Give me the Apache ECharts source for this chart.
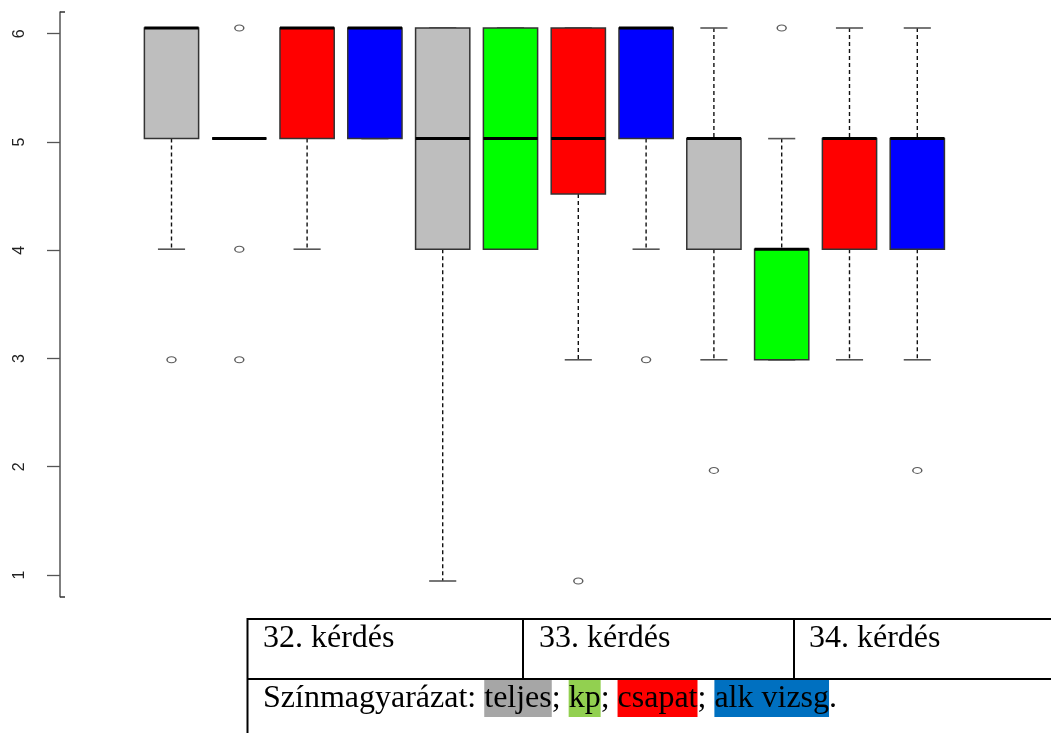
<!DOCTYPE html>
<html>
<head>
<meta charset="utf-8">
<script src="https://cdn.jsdelivr.net/npm/echarts@6/dist/echarts.min.js"></script>
<style>
  html, body { margin: 0; padding: 0; background: #fff; }
  #chart { width: 1051px; height: 733px; }
</style>
</head>
<body>
<div id="chart"></div>
<script>
// Questions and respondent groups (one box per question × group)
const questions = ['32. kérdés', '33. kérdés', '34. kérdés'];
const groups = ['teljes', 'kp', 'csapat', 'alk vizsg'];

// Box statistics, in order 32/teljes, 32/kp, ... 34/alk vizsg
const whiskerLow    = [4, 5, 4, 5, 1, 4, 3,   4, 3, 3, 3, 3];
const lowerQuartile = [5, 5, 5, 5, 4, 4, 4.5, 5, 4, 3, 4, 4];
const median        = [6, 5, 6, 6, 5, 5, 5,   6, 5, 4, 5, 5];
const upperQuartile = [6, 5, 6, 6, 6, 6, 6,   6, 5, 4, 5, 5];
const whiskerHigh   = [6, 5, 6, 6, 6, 6, 6,   6, 6, 5, 6, 6];

// Outliers as [box index, value]
const outliers = [[0, 3], [1, 6], [1, 4], [1, 3], [6, 1], [7, 3], [8, 2], [9, 6], [11, 2]];

// Y axis tick labels
const yTicks = [1, 2, 3, 4, 5, 6];

// Fill colour per group
const groupFill = ['#BEBEBE', '#00FF00', '#FF0000', '#0000FF'];
// Highlight colour per group in the legend line
const groupHighlight = ['#A6A6A6', '#92D050', '#FF0000', '#0070C0'];

const categories = [];
questions.forEach(q => groups.forEach(g => categories.push(q + ' – ' + g)));

const boxData = categories.map((c, i) => [
  i, whiskerLow[i], lowerQuartile[i], median[i], upperQuartile[i], whiskerHigh[i]
]);

const chart = echarts.init(document.getElementById('chart'), null, { renderer: 'canvas' });

function renderBox(params, api) {
  const i = api.value(0);
  const lo = api.value(1), q1 = api.value(2), med = api.value(3), q3 = api.value(4), hi = api.value(5);
  const band = api.size([1, 0])[0];
  const bw = band * 0.8;
  const cx = api.coord([i, med])[0];
  const py = v => api.coord([i, v])[1];
  const fill = groupFill[i % groups.length];
  const dash = { stroke: '#111', lineWidth: 1.4, lineDash: [4, 3] };
  const staple = { stroke: '#555', lineWidth: 1.6 };
  return {
    type: 'group',
    children: [
      { type: 'line', shape: { x1: cx, y1: py(hi), x2: cx, y2: py(q3) }, style: dash },
      { type: 'line', shape: { x1: cx, y1: py(q1), x2: cx, y2: py(lo) }, style: dash },
      { type: 'line', shape: { x1: cx - bw / 4, y1: py(hi), x2: cx + bw / 4, y2: py(hi) }, style: staple },
      { type: 'line', shape: { x1: cx - bw / 4, y1: py(lo), x2: cx + bw / 4, y2: py(lo) }, style: staple },
      { type: 'rect', shape: { x: cx - bw / 2, y: py(q3), width: bw, height: py(q1) - py(q3) },
        style: { fill: fill, stroke: '#333', lineWidth: 1.5 } },
      { type: 'line', shape: { x1: cx - bw / 2, y1: py(med), x2: cx + bw / 2, y2: py(med) },
        style: { stroke: '#000', lineWidth: 3 } }
    ]
  };
}

const legendRich = {
  base: { fontFamily: 'Liberation Serif', fontSize: 32, color: '#000', lineHeight: 37, height: 37 }
};
const richKeys = ['g0', 'g1', 'g2', 'g3'];
richKeys.forEach((k, i) => {
  legendRich[k] = { fontFamily: 'Liberation Serif', fontSize: 32, color: '#000',
    lineHeight: 37, height: 37, backgroundColor: groupHighlight[i] };
});
const legendText = '{base|Színmagyarázat: }' +
  groups.map((g, i) => '{' + richKeys[i] + '|' + g + '}').join('{base|; }') + '{base|.}';

const cellTextX = [263, 539, 809];

chart.setOption({
  animation: false,
  backgroundColor: '#fff',
  grid: [
    { left: 60, top: 12.05, width: 10, height: 584.6 },
    { left: 137.6, top: 28, width: 813.6, height: 553 }
  ],
  xAxis: [
    { gridIndex: 0, type: 'value', show: false },
    { gridIndex: 1, type: 'category', data: categories, show: false }
  ],
  yAxis: [
    {
      gridIndex: 0, type: 'value', min: 0.8, max: 6.2, position: 'left',
      axisLine: { show: true, lineStyle: { color: '#555', width: 1.5 } },
      axisTick: { show: true, length: 13, customValues: yTicks, lineStyle: { color: '#555', width: 1.3 } },
      axisLabel: { show: true, customValues: yTicks, rotate: 90, margin: 32,
        fontFamily: 'Liberation Sans', fontSize: 16, color: '#222' },
      splitLine: { show: false }
    },
    {
      gridIndex: 0, type: 'value', min: 0.8, max: 6.2, position: 'left',
      axisLine: { show: false },
      axisTick: { show: true, inside: true, length: 5, customValues: [0.8, 6.2],
        lineStyle: { color: '#333', width: 1.5 } },
      axisLabel: { show: false },
      splitLine: { show: false }
    },
    { gridIndex: 1, type: 'value', min: 1, max: 6, show: false, splitLine: { show: false } }
  ],
  series: [
    {
      type: 'custom', xAxisIndex: 1, yAxisIndex: 2, clip: false,
      renderItem: renderBox, data: boxData, z: 2
    },
    {
      type: 'scatter', xAxisIndex: 1, yAxisIndex: 2, clip: false,
      symbol: 'circle', symbolSize: [9, 6],
      itemStyle: { color: '#fff', borderColor: '#333', borderWidth: 1.2 },
      data: outliers, z: 3
    }
  ],
  graphic: [
    { type: 'line', shape: { x1: 247, y1: 619, x2: 1051, y2: 619 }, style: { stroke: '#000', lineWidth: 2 } },
    { type: 'line', shape: { x1: 247, y1: 679, x2: 1051, y2: 679 }, style: { stroke: '#000', lineWidth: 2 } },
    { type: 'line', shape: { x1: 247.5, y1: 618, x2: 247.5, y2: 733 }, style: { stroke: '#000', lineWidth: 2 } },
    { type: 'line', shape: { x1: 523, y1: 619, x2: 523, y2: 679 }, style: { stroke: '#000', lineWidth: 2 } },
    { type: 'line', shape: { x1: 794, y1: 619, x2: 794, y2: 679 }, style: { stroke: '#000', lineWidth: 2 } },
    ...questions.map((q, i) => ({
      type: 'text', x: cellTextX[i], y: 639,
      style: { text: q, fontFamily: 'Liberation Serif', fontSize: 32, fill: '#000',
        align: 'left', verticalAlign: 'middle' }
    })),
    {
      type: 'text', x: 263, y: 698.5,
      style: { text: legendText, rich: legendRich, fontFamily: 'Liberation Serif', fontSize: 32,
        fill: '#000', align: 'left', verticalAlign: 'middle', lineHeight: 37 }
    }
  ]
});
</script>
</body>
</html>
